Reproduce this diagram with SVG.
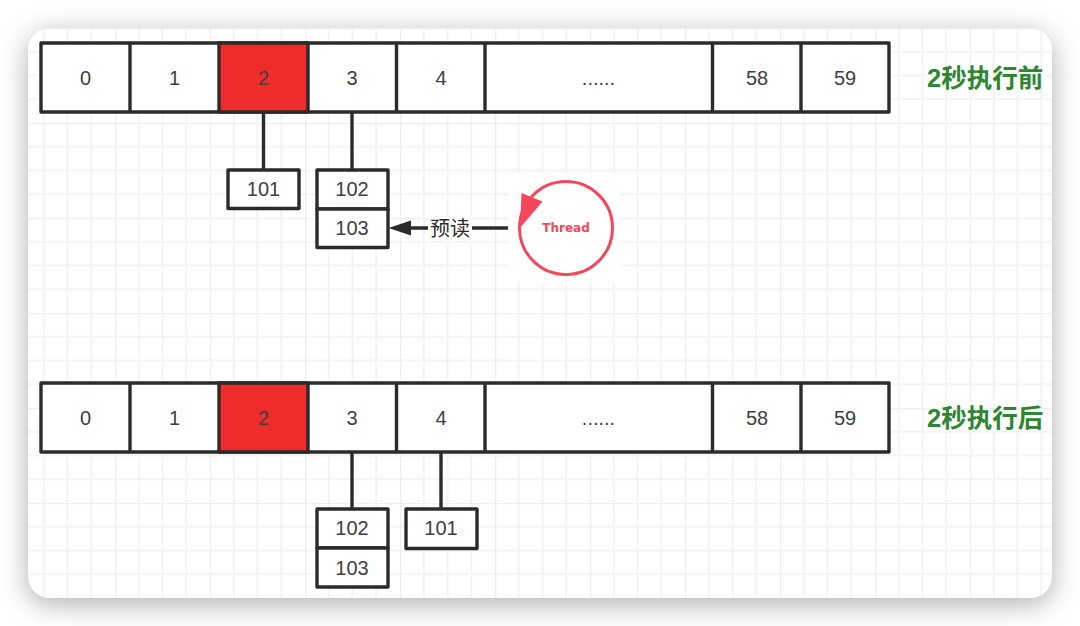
<svg xmlns="http://www.w3.org/2000/svg" width="1080" height="626" viewBox="0 0 1080 626">
<style>
.c{fill:#fff;stroke:#2b2b2b;stroke-width:3.4;stroke-linejoin:round}
.r{fill:#ef2c2b}
.t{font-family:"Liberation Sans",Arial,sans-serif;font-size:20px;fill:#404040;text-anchor:middle}
.l{fill:none;stroke:#2b2b2b;stroke-width:3.4}
.h{font-family:"Liberation Sans","Noto Sans CJK SC",sans-serif;font-size:25.500px;font-weight:700;fill:#2e8532}
.z{font-family:"Noto Sans CJK SC",sans-serif;font-size:20px;fill:#2b2b2b;text-anchor:middle}
</style>
<defs>
<filter id="sh" x="-10%" y="-15%" width="120%" height="130%"><feDropShadow dx="0" dy="6" stdDeviation="14" flood-color="#000" flood-opacity="0.32"/></filter>
<pattern id="grid" x="20" y="28" width="95" height="95" patternUnits="userSpaceOnUse">
<path d="M23.75 0V95M47.5 0V95M71.25 0V95M0 23.75H95M0 47.5H95M0 71.25H95" fill="none" stroke="#f4f4f4" stroke-width="2"/>
<path d="M0 0V95M0 0H95" fill="none" stroke="#eeeeee" stroke-width="2.600"/>
</pattern>
</defs>
<rect width="1080" height="626" fill="#fff"/>
<rect id="card" x="28" y="28" width="1024" height="570" rx="22" fill="#fff" filter="url(#sh)"/>
<rect x="28" y="28" width="1024" height="570" rx="22" fill="url(#grid)"/>
<g id="connectors">
<path class="l" d="M263.500 112V170M352 112V170M352 452V509M441 452V509"/>
<path d="M508 228H411" class="l"/>
<path d="M388.500 228L411 220.500V235.500Z" fill="#2b2b2b"/>
</g>
<g id="row-before">
<rect class="c" x="41" y="43" width="848" height="69"/>
<rect x="219" y="43" width="89" height="69" class="c r"/>
<path class="l" d="M130 43V112M396.500 43V112M485 43V112M712.500 43V112M801 43V112"/>
<g class="t"><text x="85.500" y="85">0</text><text x="174.500" y="85">1</text><text x="263.500" y="85">2</text><text x="352" y="85">3</text><text x="441" y="85">4</text><text x="598.500" y="85">......</text><text x="757" y="85">58</text><text x="845" y="85">59</text></g>
</g>
<g id="row-after">
<rect class="c" x="41" y="383" width="848" height="69"/>
<rect x="219" y="383" width="89" height="69" class="c r"/>
<path class="l" d="M130 383V452M396.500 383V452M485 383V452M712.500 383V452M801 383V452"/>
<g class="t"><text x="85.500" y="425">0</text><text x="174.500" y="425">1</text><text x="263.500" y="425">2</text><text x="352" y="425">3</text><text x="441" y="425">4</text><text x="598.500" y="425">......</text><text x="757" y="425">58</text><text x="845" y="425">59</text></g>
</g>
<g id="before-101"><rect class="c" x="228" y="170" width="71" height="38.500"/><text class="t" x="263.500" y="196">101</text></g>
<g id="before-102"><rect class="c" x="317" y="170" width="71" height="39"/><text class="t" x="352" y="196">102</text></g>
<g id="before-103"><rect class="c" x="317" y="209" width="71" height="38.500"/><text class="t" x="352" y="235">103</text></g>
<g id="after-102"><rect class="c" x="317" y="509" width="71" height="39"/><text class="t" x="352" y="535">102</text></g>
<g id="after-103"><rect class="c" x="317" y="548" width="71" height="39"/><text class="t" x="352" y="575">103</text></g>
<g id="after-101"><rect class="c" x="406" y="509" width="71" height="39.500"/><text class="t" x="441" y="535">101</text></g>
<g id="label-read"><rect x="428" y="216" width="44" height="25" fill="#fff"/><text class="z" x="450" y="236">预读</text></g>
<g id="thread">
<rect x="509" y="173" width="111" height="110" fill="#fff"/>
<circle cx="566" cy="228" r="46.500" fill="none" stroke="#f4475b" stroke-width="3"/>
<path d="M521.500 193L542.500 201.500L520 228Z" fill="#f4475b"/>
<text x="566" y="232" font-family="'DejaVu Sans',sans-serif" font-size="12" font-weight="700" fill="#f4475b" text-anchor="middle">Thread</text>
</g>
<text id="title-before" class="h" x="927" y="87">2秒执行前</text>
<text id="title-after" class="h" x="927" y="427">2秒执行后</text>
</svg>
